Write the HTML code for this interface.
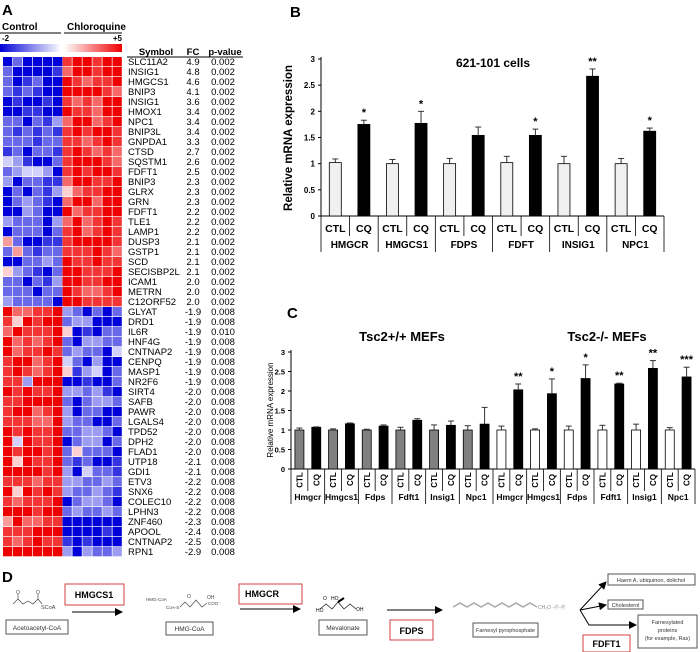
<!DOCTYPE html>
<html><head><meta charset="utf-8"><style>
html,body{margin:0;padding:0;background:#fff;}
svg{display:block;font-family:"Liberation Sans",Arial,sans-serif;}
</style></head><body>
<svg id="fig" width="700" height="652" viewBox="0 0 700 652" xmlns="http://www.w3.org/2000/svg">
<defs>
<linearGradient id="gb" x1="0" x2="1" y1="0" y2="0"><stop offset="0" stop-color="#0000d8"/><stop offset="1" stop-color="#ffffff"/></linearGradient>
<linearGradient id="gr" x1="0" x2="1" y1="0" y2="0"><stop offset="0" stop-color="#ffffff"/><stop offset="1" stop-color="#ee0000"/></linearGradient>
<marker id="ah" markerWidth="8" markerHeight="8" refX="7" refY="4" orient="auto" markerUnits="userSpaceOnUse"><path d="M0,0 L8,4 L0,8 z" fill="#000"/></marker>
</defs>
<g id="panelA">
<text x="2" y="15" font-size="15" font-weight="bold">A</text>
<text x="2" y="30" font-size="10" font-weight="bold">Control</text>
<line x1="0" y1="33" x2="61" y2="33" stroke="#000" stroke-width="1"/>
<text x="67" y="30" font-size="10" font-weight="bold">Chloroquine</text>
<line x1="64" y1="33" x2="122" y2="33" stroke="#000" stroke-width="1"/>
<text x="2" y="41" font-size="8" font-weight="bold">-2</text>
<text x="122" y="41" font-size="8" font-weight="bold" text-anchor="end">+5</text>
<rect x="0" y="44" width="61" height="8" fill="url(#gb)"/>
<rect x="64" y="44" width="58" height="8" fill="url(#gr)"/>
<text x="156" y="55" font-size="9.5" font-weight="bold" text-anchor="middle">Symbol</text>
<text x="193" y="55" font-size="9.5" font-weight="bold" text-anchor="middle">FC</text>
<text x="225" y="55" font-size="9.5" font-weight="bold" text-anchor="middle">p-value</text>
<line x1="127" y1="57" x2="243" y2="57" stroke="#000" stroke-width="1"/>
<g id="heat"></g>
<g id="tbl"></g>
</g>
<g id="panelB">
<text x="290" y="17" font-size="15" font-weight="bold">B</text>
<text x="493" y="67" font-size="12" font-weight="bold" text-anchor="middle">621-101 cells</text>
<text transform="translate(292,138) rotate(-90)" font-size="11.5" font-weight="bold" text-anchor="middle">Relative mRNA expression</text>
</g>
<g id="panelC">
<text x="287" y="318" font-size="15" font-weight="bold">C</text>
<text x="402" y="341" font-size="13" font-weight="bold" text-anchor="middle">Tsc2+/+ MEFs</text>
<text x="607" y="341" font-size="13" font-weight="bold" text-anchor="middle">Tsc2-/- MEFs</text>
<text transform="translate(273,410) rotate(-90)" font-size="8" text-anchor="middle">Relative mRNA expression</text>
</g>
<g id="panelD" font-size="5.5">
<text x="2" y="582" font-size="15" font-weight="bold">D</text>
<path d="M13,604 L18,599 L23,604 L28,601 L33,604 L38,599 L42,604" fill="none" stroke="#444" stroke-width="0.7"/>
<line x1="18" y1="599" x2="18" y2="594" stroke="#444" stroke-width="0.7"/><line x1="38" y1="599" x2="38" y2="594" stroke="#444" stroke-width="0.7"/>
<text x="16" y="594" fill="#444" font-size="5">O</text><text x="36" y="594" fill="#444" font-size="5">O</text>
<text x="41" y="609" fill="#444">SCoA</text>
<rect x="6" y="620" width="62" height="14" fill="#fff" stroke="#555"/>
<text x="37" y="630" text-anchor="middle" font-size="6.5" fill="#333">Acetoacetyl-CoA</text>
<rect x="65" y="584" width="59" height="21" fill="#fff" stroke="#d04040"/>
<text x="94" y="598" text-anchor="middle" font-size="9" font-weight="bold">HMGCS1</text>
<line x1="72" y1="612" x2="122" y2="612" stroke="#000" marker-end="url(#ah)"/>
<text x="146" y="601" fill="#444" font-size="4.5">HMG-CoA</text>
<text x="166" y="609" fill="#444" font-size="4.5">CoA-S</text>
<path d="M180,607 L185,602 L190,607 L196,600 L202,607 L207,603" fill="none" stroke="#444" stroke-width="0.7"/>
<text x="187" y="598" fill="#444" font-size="5">O</text><text x="207" y="599" fill="#444" font-size="5">OH</text><text x="208" y="605" fill="#444" font-size="4.5">COO⁻</text>
<rect x="166" y="622" width="47" height="13" fill="#fff" stroke="#555"/>
<text x="189.5" y="631" text-anchor="middle" font-size="6.5" fill="#333">HMG-CoA</text>
<rect x="239" y="584" width="63" height="20" fill="#fff" stroke="#d04040"/>
<text x="262" y="597" text-anchor="middle" font-size="9" font-weight="bold">HMGCR</text>
<line x1="240" y1="609" x2="300" y2="609" stroke="#000" marker-end="url(#ah)"/>
<path d="M320,609 L326,604 L332,609 L338,602 L344,609 L350,604 L356,609" fill="none" stroke="#222" stroke-width="0.8"/>
<line x1="338" y1="602" x2="344" y2="598" stroke="#000" stroke-width="2"/>
<text x="316" y="612" font-size="5">HO</text><text x="323" y="600" font-size="5">O</text><text x="331" y="600" font-size="5">HO</text><text x="356" y="611" font-size="5">OH</text>
<rect x="319" y="620" width="48" height="15" fill="#fff" stroke="#555"/>
<text x="343" y="630" text-anchor="middle" font-size="6.5" fill="#333">Mevalonate</text>
<line x1="387" y1="610" x2="442" y2="610" stroke="#000" marker-end="url(#ah)"/>
<rect x="390" y="620" width="43" height="20" fill="#fff" stroke="#d04040"/>
<text x="411.5" y="634" text-anchor="middle" font-size="9" font-weight="bold">FDPS</text>
<path d="M453,607 L460,603 L467,607 L474,603 L481,607 L488,603 L495,607 L502,603 L509,607 L516,603 L523,607 L530,603 L537,607" fill="none" stroke="#aaa" stroke-width="1.5"/>
<text x="538" y="609" fill="#888" font-size="5">CH₂O -Ⓟ-Ⓟ</text>
<rect x="473" y="623" width="65" height="14" fill="#fff" stroke="#555"/>
<text x="505.5" y="632" text-anchor="middle" font-size="5.5" fill="#333">Farnesyl pyrophosphate</text>
<line x1="580" y1="610" x2="606" y2="582" stroke="#000" marker-end="url(#ah)"/>
<line x1="580" y1="610" x2="606" y2="605" stroke="#000" marker-end="url(#ah)"/>
<path d="M580,610 L589,625 L636,625" fill="none" stroke="#000" marker-end="url(#ah)"/>
<rect x="608" y="574" width="87" height="11" fill="#fff" stroke="#555"/>
<text x="651" y="582" text-anchor="middle" font-size="5.5" fill="#333">Haem A, ubiquinon, dolichol</text>
<rect x="608" y="600" width="35" height="9" fill="#fff" stroke="#555"/>
<text x="625.5" y="607" text-anchor="middle" font-size="5.5" fill="#333">Cholesterol</text>
<rect x="638" y="615" width="59" height="33" fill="#fff" stroke="#555"/>
<text x="667.5" y="624" text-anchor="middle" font-size="5.5" fill="#333">Farnesylated</text>
<text x="667.5" y="632" text-anchor="middle" font-size="5.5" fill="#333">proteins</text>
<text x="667.5" y="640" text-anchor="middle" font-size="5.5" fill="#333">(for example, Ras)</text>
<rect x="583" y="635" width="47" height="17" fill="#fff" stroke="#d04040"/>
<text x="606.5" y="647" text-anchor="middle" font-size="9" font-weight="bold">FDFT1</text>
</g>
</svg>
<script>
// ---------- Panel A data ----------
const heatGenes = ["SLC11A2","INSIG1","HMGCS1","BNIP3","INSIG1","HMOX1","NPC1","BNIP3L","GNPDA1","CTSD","SQSTM1","FDFT1","BNIP3","GLRX","GRN","FDFT1","TLE1","LAMP1","DUSP3","GSTP1","SCD","SECISBP2L","ICAM1","METRN","C12ORF52","GLYAT","DRD1","IL6R","HNF4G","CNTNAP2","CENPQ","MASP1","NR2F6","SIRT4","SAFB","PAWR","LGALS4","TPD52","DPH2","FLAD1","UTP18","GDI1","ETV3","SNX6","COLEC10","LPHN3","ZNF460","APOOL","CNTNAP2","RPN1"];
const heatFC = ["4.9","4.8","4.6","4.1","3.6","3.4","3.4","3.4","3.3","2.7","2.6","2.5","2.3","2.3","2.3","2.2","2.2","2.2","2.1","2.1","2.1","2.1","2.0","2.0","2.0","-1.9","-1.9","-1.9","-1.9","-1.9","-1.9","-1.9","-1.9","-2.0","-2.0","-2.0","-2.0","-2.0","-2.0","-2.0","-2.1","-2.1","-2.2","-2.2","-2.2","-2.2","-2.3","-2.4","-2.5","-2.9"];
const heatP = ["0.002","0.002","0.002","0.002","0.002","0.002","0.002","0.002","0.002","0.002","0.002","0.002","0.002","0.002","0.002","0.002","0.002","0.002","0.002","0.002","0.002","0.002","0.002","0.002","0.002","0.008","0.008","0.010","0.008","0.008","0.008","0.008","0.008","0.008","0.008","0.008","0.008","0.008","0.008","0.008","0.008","0.008","0.008","0.008","0.008","0.008","0.008","0.008","0.008","0.008"];
const heatCells = ["020000899899","200001799899","201200987889","212100999987","010010878799","001100988799","220213799789","212121898998","222122887898","120221898787","431002899987","234430898998","302211799889","020213578899","023210799799","003200978899","322203797898","022202897898","620011899998","262122888987","002232988988","532102998889","220213998899","222022987789","322220998888","977889320202","859899233000","798889501022","978789203322","978898232204","899789420300","898789513402","883999001002","989889332310","889999202332","899789302200","888779322002","989889223320","949889023302","989989252220","959889212001","999989304221","888788332232","959898322321","878889023320","999899232232","697788000000","888999000010","878988101000","999999303223"];

// ---------- Panel B data ----------
const bGenes = ["HMGCR","HMGCS1","FDPS","FDFT","INSIG1","NPC1"];
const bCTL = [1.02,1.0,1.0,1.02,1.0,1.0];
const bCTLerr = [0.07,0.08,0.1,0.12,0.14,0.1];
const bCQ = [1.75,1.77,1.54,1.54,2.67,1.62];
const bCQerr = [0.08,0.23,0.16,0.12,0.14,0.06];
const bStars = ["*","*","","*","**","*"];
const bTicks = [0,0.5,1,1.5,2,2.5,3];

// ---------- Panel C data ----------
const cGenes = ["Hmgcr","Hmgcs1","Fdps","Fdft1","Insig1","Npc1","Hmgcr","Hmgcs1","Fdps","Fdft1","Insig1","Npc1"];
const cCTL = [1,1,1,1,1,1,1,1,1,1,1,1];
const cCTLerr = [0.05,0.03,0.02,0.07,0.13,0.11,0.1,0.03,0.1,0.12,0.15,0.06];
const cCQ = [1.07,1.16,1.1,1.25,1.12,1.15,2.03,1.93,2.32,2.18,2.58,2.36];
const cCQerr = [0.01,0.02,0.03,0.04,0.11,0.43,0.15,0.38,0.35,0.02,0.2,0.25];
const cStars = ["","","","","","","**","*","*","**","**","***"];
const cTicks = [0,0.5,1,1.5,2,2.5,3];

const NS="http://www.w3.org/2000/svg";
function mk(tag,attrs,parent,txt){const e=document.createElementNS(NS,tag);for(const k in attrs)e.setAttribute(k,attrs[k]);if(txt!==undefined)e.textContent=txt;parent.appendChild(e);return e;}
function heatColor(v){const t=(v-4.5)/4.5;if(t<0){const a=1+t;const c=Math.round(255*a*0.92);return `rgb(${c},${c},${Math.round(216+39*a)})`;}const a=1-t;const c=Math.round(255*a*0.92);return `rgb(${Math.round(238+17*a)},${c},${c})`;}

// heatmap
const heat=document.getElementById('heat'), tbl=document.getElementById('tbl');
const hx=(c)=>3+c*10, hy=(r)=>57+r*10;
heatCells.forEach((row,r)=>{
  for(let c=0;c<12;c++){
    const v=+row[c];
    const e=mk('rect',{x:hx(c)+(c>=6?-0.5:0),y:hy(r),width:9.3,height:9.3,fill:heatColor(v)},heat);
    
    
  }
});
heatGenes.forEach((g,r)=>{
  const y=hy(r)+7.8;
  const t1=mk('text',{x:128,y:y,'font-size':9.5},tbl,g);
  
  
  const t2=mk('text',{x:193,y:y,'font-size':9.5,'text-anchor':'middle'},tbl,heatFC[r]);
  
  
  const t3=mk('text',{x:223,y:y,'font-size':9.5,'text-anchor':'middle'},tbl,heatP[r]);
  
  
});

function barChart(g,o){
  const n=o.genes.length, gw=(o.x1-o.x0)/n;
  const y=(v)=>o.y0-(v/3)*(o.y0-o.y3);
  mk('line',{x1:o.x0,y1:o.y3-2,x2:o.x0,y2:o.y0,stroke:'#000','stroke-width':1},g);
  mk('line',{x1:o.x0,y1:o.y0,x2:o.x1,y2:o.y0,stroke:'#000','stroke-width':1},g);
  o.ticks.forEach(t=>{
    mk('line',{x1:o.x0-3,y1:y(t),x2:o.x0,y2:y(t),stroke:'#000'},g);
    const e=mk('text',{x:o.x0-6,y:y(t)+3,'font-size':o.tickFs,'font-weight':'bold','text-anchor':'end'},g,String(t));
    
    
  });
  for(let i=0;i<n;i++){
    const gx=o.x0+i*gw;
    [[o.ctl[i],o.ctlErr[i],0.25,o.ctlFill(i),'ctl'],[o.cq[i],o.cqErr[i],0.75,'#000','cq']].forEach(([v,er,f,fill,kind])=>{
      const cx=gx+gw*f;
      const b=mk('rect',{x:cx-o.bw/2,y:y(v),width:o.bw,height:o.y0-y(v),fill:fill,stroke:'#000','stroke-width':0.8},g);
      
      
      mk('line',{x1:cx,y1:y(v),x2:cx,y2:y(v+er),stroke:'#333','stroke-width':1},g);
      mk('line',{x1:cx-3,y1:y(v+er),x2:cx+3,y2:y(v+er),stroke:'#333','stroke-width':1},g);
      if(kind==='cq'&&o.stars[i]){
        const s=mk('text',{x:cx,y:y(v+er)-4,'font-size':11,'font-weight':'bold','text-anchor':'middle'},g,o.stars[i]);
        
        
      }
      // category label
      let lab;
      if(o.rotate){
        lab=mk('text',{transform:`translate(${cx+3},${o.labY}) rotate(-90)`,'font-size':8,'font-weight':'bold','text-anchor':'middle'},g,kind==='ctl'?'CTL':'CQ');
      } else {
        lab=mk('text',{x:cx,y:o.labY,'font-size':10.5,'font-weight':'bold','text-anchor':'middle'},g,kind==='ctl'?'CTL':'CQ');
      }
      
      
    });
    mk('line',{x1:gx+gw/2,y1:o.y0,x2:gx+gw/2,y2:o.midEnd,stroke:'#000','stroke-width':0.8},g);
    mk('line',{x1:gx,y1:o.y0,x2:gx,y2:o.grpEnd,stroke:'#000','stroke-width':0.8},g);
    const gl=mk('text',{x:gx+gw/2,y:o.geneY,'font-size':o.geneFs,'font-weight':'bold','text-anchor':'middle'},g,o.genes[i]);
    
    
  }
  mk('line',{x1:o.x1,y1:o.y0,x2:o.x1,y2:o.grpEnd,stroke:'#000','stroke-width':0.8},g);
}
barChart(document.getElementById('panelB'),{genes:bGenes,ctl:bCTL,ctlErr:bCTLerr,cq:bCQ,cqErr:bCQerr,stars:bStars,ticks:bTicks,
  x0:321,x1:664,y0:216,y3:59,bw:12,tickFs:8,ctlFill:()=>'#f0f0f0',labY:232,midEnd:236,grpEnd:252,geneY:248,geneFs:10});
barChart(document.getElementById('panelC'),{genes:cGenes,ctl:cCTL,ctlErr:cCTLerr,cq:cCQ,cqErr:cCQerr,stars:cStars,ticks:cTicks,
  x0:291,x1:695,y0:469,y3:352,bw:9,tickFs:7.5,ctlFill:(i)=>i<6?'#808080':'#ffffff',rotate:true,labY:480,midEnd:491,grpEnd:504,geneY:500,geneFs:8.5});
</script>
</body></html>
